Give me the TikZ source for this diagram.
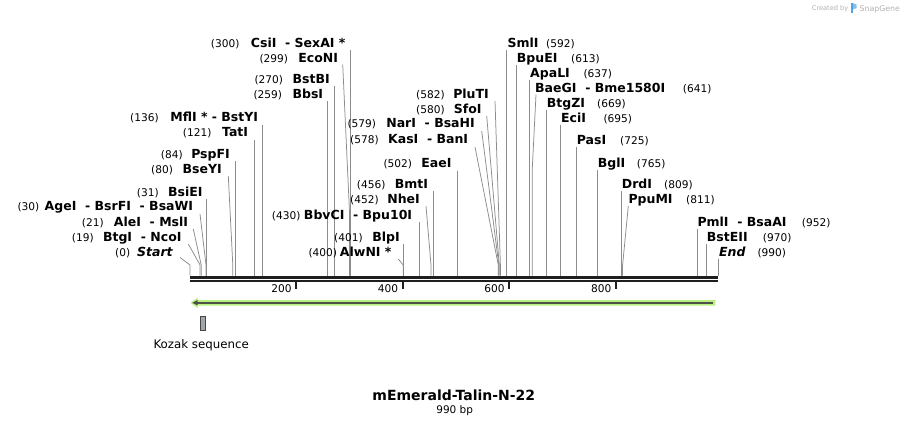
\documentclass[tikz,border=0pt]{standalone}
\usepackage{fontspec}
\setmainfont{DejaVu Sans}
\newcommand\enzsep{\ \ -\ }
\newcommand\enzstar{\ *\ -\ }
\definecolor{cutgray}{RGB}{140,140,140}
\definecolor{barblack}{RGB}{30,30,30}
\definecolor{featgreen}{RGB}{184,240,128}
\definecolor{featdark}{RGB}{78,82,72}
\definecolor{kozakfill}{RGB}{160,166,173}
\definecolor{wmgray}{RGB}{178,178,178}
\definecolor{wmblue}{RGB}{80,165,230}
\begin{document}
\begin{tikzpicture}[x=1pt,y=-1pt,
  num/.style={font=\fontsize{10.6}{12}\selectfont,inner sep=0pt},
  enz/.style={font=\fontsize{12.5}{14}\selectfont\bfseries,inner sep=0pt},
  lnum/.style={num,anchor=base west},
  lenz/.style={enz,anchor=base east},
  renz/.style={enz,anchor=base west},
  cutline/.style={draw=cutgray,line width=0.75pt},
  tick/.style={draw=barblack,line width=2pt},
  ticklbl/.style={num,anchor=base east}]
\useasboundingbox (0,0) rectangle (909,426);
\fill[white] (0,0) rectangle (909,426);

% straight cut-site lines
\foreach \id/\x/\y in {300/350/49.5, 270/334.2/86, 259/327.8/101, 136/262.4/124.5,
   121/254.4/139.5, 84/235/161, 31/206.8/199, 430/419.3/222, 401/403.8/244,
   456/433.2/191, 502/457.6/170.5, 592/506.2/49.5, 613/516.8/64.5, 637/529.6/79.5,
   669/546.8/109.5, 695/560.7/124.5, 725/576.7/146.5, 765/597.8/170, 809/621.6/191,
   952/697.5/229, 970/706.8/244, 990/718.2/258.5}
  {\coordinate (l\id) at (\x,\y);
   \coordinate (s\id) at (\x,275.5);
   \draw[cutline] (l\id) -- (s\id);}

% slanted cut-site lines (knee 10.5 above the bar)
\foreach \id/\x/\y/\sx in {80/228.3/176/232.8, 30/200/214/206, 21/193.3/229/201.2,
   19/188.3/244/200.1, 0/180/257.5/190, 400/398.3/259/403.2, 452/426/206/431,
   578/475/147/498.3, 579/481.7/131/498.8, 580/486.7/116/499.3, 582/495/101/500.4,
   811/628.3/206/622.6}
  {\coordinate (l\id) at (\x,\y);
   \coordinate (s\id) at (\sx,275.5);
   \draw[cutline] (l\id) -- ([yshift=10.5pt]s\id) -- (s\id);}

% slanted lines with a high knee
\coordinate (l299) at (342.7,64.5);
\coordinate (s299) at (349.4,275.5);
\draw[cutline] (l299) -- ([yshift=65.5pt]s299) -- (s299);
\coordinate (l641) at (536,94.5);
\coordinate (s641) at (532.2,275.5);
\draw[cutline] (l641) -- ([yshift=105.5pt]s641) -- (s641);

% left labels: number start, name end, baseline
\foreach \id/\nx/\ex/\by/\name in {300/210.7/345.7/47/CsiI\enzsep SexAI *,
   299/259.3/338.3/62/EcoNI, 270/254.3/330/83.5/BstBI, 259/253.3/323.3/98.3/BbsI,
   136/130/258.3/121.7/MflI\enzstar BstYI, 121/182.7/248.3/136.7/TatI,
   84/160.7/230/158/PspFI, 80/151/222/173/BseYI, 31/136.7/202.7/196/BsiEI,
   30/17.3/193.3/210.7/AgeI\enzsep BsrFI\enzsep BsaWI, 21/81.7/188.3/226/AleI\enzsep MslI,
   19/71.7/181.7/241/BtgI\enzsep NcoI, 0/115/173.3/256/\textit{Start},
   430/271.7/412.3/219.3/BbvCI\enzsep Bpu10I, 401/334/400/241/BlpI,
   400/308.3/391.7/256/AlwNI *, 452/350/420/203.3/NheI, 456/356.7/428.3/188.3/BmtI,
   502/383.3/451.7/167.7/EaeI, 578/350/468.3/143.3/KasI\enzsep BanI,
   579/347.3/475/127.7/NarI\enzsep BsaHI, 580/416/481.7/113.3/SfoI,
   582/416/489/98.3/PluTI}
  {\node[lnum] (n\id) at (\nx,\by) {(\id)};
   \node[lenz] (e\id) at (\ex,\by) {\name};}

% right labels: name start, number start, baseline
\foreach \id/\ex/\nx/\by/\name in {592/507.3/546/47/SmlI, 613/516.7/571/62/BpuEI,
   637/530/583.3/77/ApaLI, 641/535/682.7/92/BaeGI\enzsep Bme1580I,
   669/546.7/597/107.5/BtgZI, 695/561/603.3/122.5/EciI, 725/576.7/620/144/PasI,
   765/597.7/636.7/167.3/BglI, 809/621.7/664/188.3/DrdI, 811/628.3/686/203.3/PpuMI,
   952/697.3/801.7/226/PmlI\enzsep BsaAI, 970/706.7/762.7/241/BstEII,
   990/719/757.3/256/\textit{End}}
  {\node[renz] (e\id) at (\ex,\by) {\name};
   \node[lnum] (n\id) at (\nx,\by) {(\id)};}

% ruler
\coordinate (rulA) at (190,277.2);
\coordinate (rulB) at (718.3,277.2);
\coordinate (rulC) at (190,280.8);
\coordinate (rulD) at (718.3,280.8);
\draw[barblack,line width=3pt] (rulA) -- (rulB);
\draw[barblack,line width=1.6pt] (rulC) -- (rulD);
\foreach \t/\x in {200/296.2, 400/402.9, 600/509.3, 800/616}
  {\coordinate (ta\t) at (\x,281);
   \coordinate (tb\t) at (\x,289);
   \draw[tick] (ta\t) -- (tb\t);
   \node[ticklbl] (tl\t) at ([xshift=-4.5pt]\x,292.5) {\t};}

% feature arrow
\fill[featgreen] (190.5,302.8) -- (197.5,297.6) -- (197.5,300) -- (715.3,300)
  -- (715.3,305.6) -- (197.5,305.6) -- (197.5,308) -- cycle;
\coordinate (fA) at (196,302.8);
\coordinate (fB) at (712.8,302.8);
\draw[featdark,line width=2pt] (fA) -- (fB);
\fill[featdark] (192.3,302.8) -- (197.5,300.2) -- (197.5,305.4) -- cycle;

% Kozak sequence
\node[draw={rgb,255:red,70;green,70;blue,70},fill=kozakfill,line width=0.6pt,
  minimum width=5.3pt,minimum height=14.7pt,inner sep=0pt] (kozakbox) at (202.65,323.35) {};
\node[font=\fontsize{11.8}{14}\selectfont,anchor=base,inner sep=0pt] (kozaklbl)
  at (201.2,348.5) {Kozak sequence};

% title
\node[font=\fontsize{14}{16}\selectfont\bfseries,anchor=base,inner sep=0pt] (title)
  at (453.8,400) {mEmerald-Talin-N-22};
\node[font=\fontsize{10.5}{12}\selectfont,anchor=base,inner sep=0pt] (bp)
  at (454.7,413.5) {990 bp};

% watermark
\node[font=\fontsize{6.6}{8}\selectfont,text=wmgray,anchor=base west,inner sep=0pt] (wm1)
  at (811.7,10.5) {Created by};
\fill[wmblue] (851,3.2) rectangle (853.2,13);
\fill[wmblue!70] (853.2,3.2) -- (856.6,4.6) -- (856.6,8) -- (853.2,9.4) -- cycle;
\node[font=\fontsize{7.8}{9}\selectfont,text=wmgray,anchor=base west,inner sep=0pt] (wm2)
  at (859.5,11) {SnapGene};
\end{tikzpicture}
\end{document}
